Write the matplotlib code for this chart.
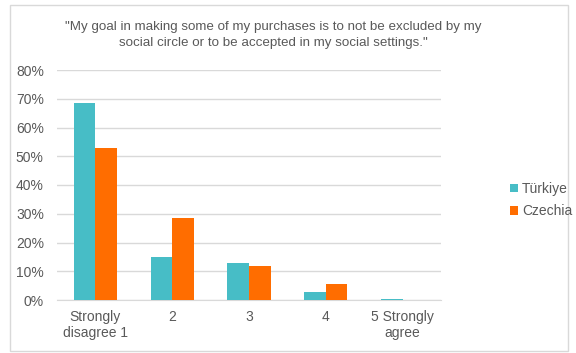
from matplotlib import pyplot as plt
from matplotlib.patches import Rectangle
import numpy as np

plt.rcParams['font.family'] = ['Liberation Sans', 'DejaVu Sans']

categories = ['Strongly\ndisagree 1', '2', '3', '4', '5 Strongly\nagree']
turkiye = [68.6, 15.1, 12.9, 2.8, 0.3]
czechia = [53.0, 28.6, 12.0, 5.4, 0.0]
title = '"My goal in making some of my purchases is to not be excluded by my\nsocial circle or to be accepted in my social settings."'

grey = '#595959'
fig = plt.figure(figsize=(5.76, 3.53), dpi=100)
fig.patches.append(Rectangle((0.018, 0.005), 0.968, 0.98, transform=fig.transFigure,
                             fill=False, edgecolor='#d9d9d9', linewidth=1))
ax = fig.add_axes([57/576, 1-300/353, 384/576, 230/353])

x = np.arange(len(categories))
w = 0.28
ax.bar(x - w/2, turkiye, w, color='#47BDC6', label='Türkiye', zorder=3)
ax.bar(x + w/2, czechia, w, color='#FF6D00', label='Czechia', zorder=3)

ax.set_xlim(-0.5, len(categories) - 0.5)
ax.set_ylim(0, 80)
ax.set_yticks(range(0, 81, 10))
ax.set_yticklabels([f'{v}%' for v in range(0, 81, 10)])
ax.set_xticks(x)
ax.set_xticklabels(categories)
ax.yaxis.grid(True, color='#d9d9d9', linewidth=1, zorder=0)
for s in ['top', 'right', 'left']:
    ax.spines[s].set_visible(False)
ax.spines['bottom'].set_color('#d9d9d9')
ax.tick_params(axis='both', length=0, labelsize=10, labelcolor=grey)
ax.tick_params(axis='x', pad=7)
ax.tick_params(axis='y', pad=9.5)

fig.text(273/576, 1-35/353, title, ha='center', va='center', fontsize=9.6, color=grey,
         linespacing=1.35)
fig.legend(loc='center left', bbox_to_anchor=(500/576, 1-200/353), frameon=False,
           fontsize=10, labelcolor=grey, handlelength=0.6, handleheight=0.6,
           handletextpad=0.3, labelspacing=0.6, borderpad=0.2)

plt.savefig('out.png')
